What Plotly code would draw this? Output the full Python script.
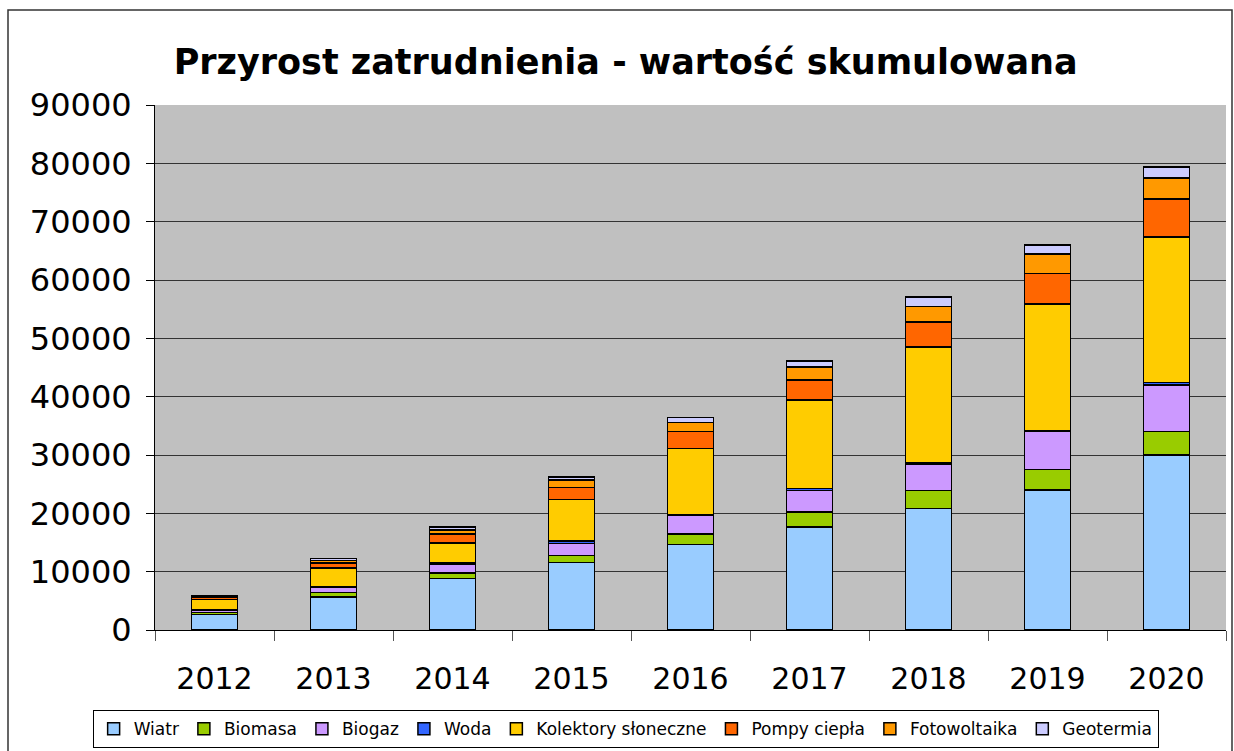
import plotly.graph_objects as go

years = ["2012", "2013", "2014", "2015", "2016", "2017", "2018", "2019", "2020"]
wiatr = [2700, 5700, 8800, 11600, 14700, 17700, 20800, 24000, 30000]
biomasa = [300, 700, 1000, 1200, 1800, 2500, 3100, 3500, 4000]
biogaz = [400, 900, 1500, 2050, 3100, 3700, 4600, 6500, 8000]
woda = [100, 100, 150, 450, 150, 350, 200, 200, 400]
kolektory = [1700, 3250, 3500, 7100, 11400, 15200, 19800, 21700, 25000]
pompy = [450, 850, 1500, 2050, 2900, 3400, 4300, 5200, 6500]
foto = [200, 450, 700, 1250, 1500, 2200, 2700, 3400, 3600]
geo = [100, 300, 550, 570, 900, 1100, 1600, 1500, 1900]

series = [
    ("Wiatr", wiatr, "#99CCFF"),
    ("Biomasa", biomasa, "#99CC00"),
    ("Biogaz", biogaz, "#CC99FF"),
    ("Woda", woda, "#3366FF"),
    ("Kolektory słoneczne", kolektory, "#FFCC00"),
    ("Pompy ciepła", pompy, "#FF6600"),
    ("Fotowoltaika", foto, "#FF9900"),
    ("Geotermia", geo, "#CCCCFF"),
]
y_ticks = [0, 10000, 20000, 30000, 40000, 50000, 60000, 70000, 80000, 90000]
y_labels = [str(v) for v in y_ticks]

FONT = "DejaVu Sans, Liberation Sans, Arial, sans-serif"

fig = go.Figure()
for name, vals, col in series:
    fig.add_trace(go.Bar(x=years, y=vals, name=name,
                         marker=dict(color=col, line=dict(color="black", width=1.5))))

fig.update_layout(
    width=1234, height=751,
    barmode="stack", bargap=0.61,
    paper_bgcolor="white", plot_bgcolor="#C0C0C0",
    font=dict(family=FONT, color="black"),
    margin=dict(l=155, r=8, t=105, b=121, autoexpand=False),
    title=dict(text="<b>Przyrost zatrudnienia - wartość skumulowana</b>",
               x=0.507, xanchor="center", y=0.918, yanchor="middle",
               font=dict(size=35, color="black", family=FONT)),
    xaxis=dict(type="category", showline=True, linecolor="black", linewidth=1,
               ticks="outside", tickson="boundaries", ticklen=10, tickcolor="#555",
               tickfont=dict(size=30), ticklabelstandoff=22, showgrid=False,
               automargin=False),
    yaxis=dict(range=[0, 90000], tickvals=y_ticks, ticktext=y_labels, showline=True,
               linecolor="black", linewidth=1, ticks="outside", ticklen=8,
               tickcolor="black", tickfont=dict(size=32), ticklabelstandoff=8,
               showgrid=True, gridcolor="#333333", gridwidth=1, zeroline=False,
               automargin=False),
    legend=dict(orientation="h", x=0.507, xanchor="center", xref="container",
                y=0.029, yref="container", yanchor="middle",
                bordercolor="black", borderwidth=1, font=dict(size=17),
                itemwidth=30, traceorder="normal", bgcolor="white"),
    shapes=[dict(type="rect", xref="paper", yref="paper",
                 x0=(8 - 155) / 1071, x1=(1232 - 155) / 1071,
                 y0=(630 - 760) / 525, y1=(630 - 10) / 525,
                 line=dict(color="#333333", width=1.5), fillcolor="rgba(0,0,0,0)",
                 layer="below")],
)

fig.write_html("out.html", config={"displayModeBar": False},
               post_script="document.body.style.margin='0';document.body.style.overflow='hidden';")
